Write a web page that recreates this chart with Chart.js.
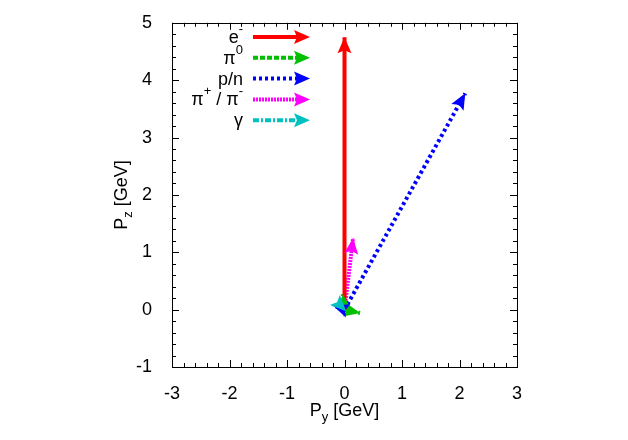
<!DOCTYPE html>
<html><head><meta charset="utf-8">
<script src="https://cdn.jsdelivr.net/npm/chart.js@4/dist/chart.umd.min.js"></script>
<style>html,body{margin:0;padding:0;background:#fff}#wrap{width:628px;height:440px}</style>
</head><body><div id="wrap"><canvas id="c" width="628" height="440"></canvas></div>
<script>
// ---- data (momentum vectors, GeV), each arrow starts at the origin ----
const seriesNames = ['e-', 'pi0', 'p/n', 'pi+/pi-', 'gamma'];
const originPy = 0, originPz = 0;
const electronPy = [0];        const electronPz = [4.75];
const pi0Py = [0.27, -0.03];   const pi0Pz = [-0.06, 0.27];
const nucleonPy = [2.1, -0.2]; const nucleonPz = [3.77, 0.07];
const pionPy = [0.15];         const pionPz = [1.25];
const gammaPy = [0.03];        const gammaPz = [-0.03];
const xTicks = [-3, -2, -1, 0, 1, 2, 3];
const yTicks = [-1, 0, 1, 2, 3, 4, 5];

const FONT = "'Liberation Sans', Arial, Helvetica, sans-serif";
const FS = 18;
const styles = [
  {color: '#ff0000', dash: []},
  {color: '#00c000', dash: [5, 2]},
  {color: '#0000ff', dash: [3, 3]},
  {color: '#ff00ff', dash: [2, 1]},
  {color: '#00c0c0', dash: [6, 2, 2, 2]}
];
const groups = [
  [electronPy, electronPz], [pi0Py, pi0Pz], [nucleonPy, nucleonPz], [pionPy, pionPz], [gammaPy, gammaPz]
];
const datasets = [];
groups.forEach((g, si) => {
  g[0].forEach((px, k) => {
    datasets.push({
      label: seriesNames[si],
      data: [{x: originPy, y: originPz}, {x: px, y: g[1][k]}],
      showLine: true,
      borderColor: styles[si].color,
      backgroundColor: styles[si].color,
      borderWidth: 4,
      borderDash: styles[si].dash,
      borderCapStyle: 'butt',
      pointRadius: 0,
      pointHoverRadius: 0
    });
  });
});

function head(ctx, x0, y0, x1, y1, color) {
  const a = Math.atan2(y1 - y0, x1 - x0);
  const L = 16, W = 7, N = 13;
  ctx.save();
  ctx.fillStyle = color;
  ctx.setLineDash([]);
  ctx.beginPath();
  ctx.moveTo(x1, y1);
  ctx.lineTo(x1 - L * Math.cos(a) + W * Math.sin(a), y1 - L * Math.sin(a) - W * Math.cos(a));
  ctx.lineTo(x1 - N * Math.cos(a), y1 - N * Math.sin(a));
  ctx.lineTo(x1 - L * Math.cos(a) - W * Math.sin(a), y1 - L * Math.sin(a) + W * Math.cos(a));
  ctx.closePath();
  ctx.fill();
  ctx.restore();
}

function drawRich(ctx, parts, x, y, align) {
  const big = FS + 'px ' + FONT, small = '13px ' + FONT;
  let w = 0;
  parts.forEach(p => { ctx.font = p.mode === 'n' ? big : small; w += ctx.measureText(p.t).width; });
  let cx = align === 'right' ? x - w : (align === 'center' ? x - w / 2 : x);
  ctx.textBaseline = 'alphabetic';
  ctx.textAlign = 'left';
  parts.forEach(p => {
    ctx.font = p.mode === 'n' ? big : small;
    const dy = p.mode === 'sup' ? -10 : (p.mode === 'sub' ? 5 : 0);
    ctx.fillText(p.t, cx, y + dy);
    cx += ctx.measureText(p.t).width;
  });
}

const decor = {
  id: 'decor',
  afterDatasetsDraw(chart) {
    const ctx = chart.ctx;
    chart.data.datasets.forEach((ds, i) => {
      const m = chart.getDatasetMeta(i);
      const p0 = m.data[0], p1 = m.data[1];
      head(ctx, p0.x, p0.y, p1.x, p1.y, ds.borderColor);
    });
    const xs = chart.scales.x, ys = chart.scales.y, a = chart.chartArea;
    ctx.save();
    ctx.strokeStyle = '#000'; ctx.lineWidth = 1; ctx.setLineDash([]);
    ctx.strokeRect(Math.round(a.left) + 0.5, Math.round(a.top) + 0.5, Math.round(a.right - a.left), Math.round(a.bottom - a.top));
    ctx.beginPath();
    for (let v = xs.min; v <= xs.max + 1e-9; v += 0.2) {
      const major = Math.abs(v - Math.round(v)) < 1e-6;
      const len = major ? 7 : 4;
      const px = Math.round(xs.getPixelForValue(v)) + 0.5;
      ctx.moveTo(px, a.bottom); ctx.lineTo(px, a.bottom - len);
      ctx.moveTo(px, a.top); ctx.lineTo(px, a.top + len);
    }
    for (let v = ys.min; v <= ys.max + 1e-9; v += 0.2) {
      const major = Math.abs(v - Math.round(v)) < 1e-6;
      const len = major ? 7 : 4;
      const py = Math.round(ys.getPixelForValue(v)) + 0.5;
      ctx.moveTo(a.left, py); ctx.lineTo(a.left + len, py);
      ctx.moveTo(a.right, py); ctx.lineTo(a.right - len, py);
    }
    ctx.stroke();
    ctx.restore();

    const labels = [
      [{t: 'e', mode: 'n'}, {t: '-', mode: 'sup'}],
      [{t: 'π', mode: 'n'}, {t: '0', mode: 'sup'}],
      [{t: 'p/n', mode: 'n'}],
      [{t: 'π', mode: 'n'}, {t: '+', mode: 'sup'}, {t: ' / π', mode: 'n'}, {t: '-', mode: 'sup'}],
      [{t: 'γ', mode: 'n'}]
    ];
    ctx.save();
    ctx.fillStyle = '#000';
    labels.forEach((parts, i) => {
      const yy = 37 + i * 20.8;
      drawRich(ctx, parts, 243, yy + 6, 'right');
      ctx.save();
      ctx.strokeStyle = styles[i].color; ctx.lineWidth = 4; ctx.lineCap = 'butt';
      ctx.setLineDash(styles[i].dash);
      ctx.beginPath(); ctx.moveTo(253, yy); ctx.lineTo(305, yy); ctx.stroke();
      ctx.restore();
      head(ctx, 253, yy, 310, yy, styles[i].color);
    });
    drawRich(ctx, [{t: 'P', mode: 'n'}, {t: 'y', mode: 'sub'}, {t: ' [GeV]', mode: 'n'}], (a.left + a.right) / 2, 416, 'center');
    ctx.save();
    ctx.translate(127, (a.top + a.bottom) / 2);
    ctx.rotate(-Math.PI / 2);
    drawRich(ctx, [{t: 'P', mode: 'n'}, {t: 'z', mode: 'sub'}, {t: ' [GeV]', mode: 'n'}], 0, 0, 'center');
    ctx.restore();
    ctx.restore();
  }
};

new Chart(document.getElementById('c'), {
  type: 'scatter',
  data: {datasets},
  options: {
    responsive: false,
    animation: false,
    events: [],
    layout: {padding: {top: 20, right: 111, left: 0, bottom: 0}},
    plugins: {legend: {display: false}, tooltip: {enabled: false}},
    scales: {
      x: {
        type: 'linear', min: -3, max: 3,
        afterBuildTicks: s => { s.ticks = xTicks.map(v => ({value: v})); },
        afterFit: s => { s.height = 73; },
        grid: {display: false}, border: {display: false},
        ticks: {color: '#000', font: {family: FONT, size: FS}, padding: 8, maxRotation: 0}
      },
      y: {
        type: 'linear', min: -1, max: 5,
        afterBuildTicks: s => { s.ticks = yTicks.map(v => ({value: v})); },
        afterFit: s => { s.width = 172; },
        grid: {display: false}, border: {display: false},
        ticks: {color: '#000', font: {family: FONT, size: FS}, padding: 12}
      }
    }
  },
  plugins: [decor]
});
</script></body></html>
